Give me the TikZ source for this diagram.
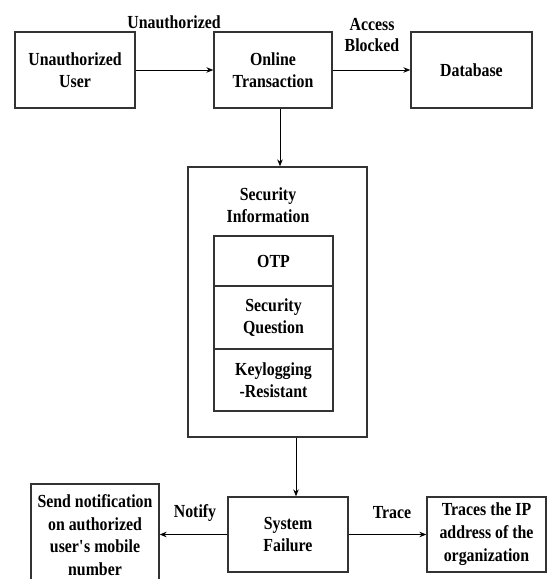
\documentclass[tikz,border=0pt]{standalone}
\usepackage{fontspec}
\setmainfont{Liberation Serif}[FakeStretch=0.86]
\usetikzlibrary{arrows.meta}
\begin{document}
\begin{tikzpicture}[x=1bp,y=-1bp,
  font=\bfseries\fontsize{18.5}{22}\selectfont,
  box/.style={draw=black!80, line width=1.3bp, align=center, inner sep=0pt},
  lbl/.style={align=center, inner sep=0pt},
  arr/.style={draw=black, line width=0.9bp, -{Stealth[length=7bp,width=5.5bp]}}]
\clip (0,0) rectangle (550,579);
\fill[white] (0,0) rectangle (550,579);

% top row
\node[box, minimum width=120bp, minimum height=76bp] (uu) at (75,70) {Unauthorized\\User};
\node[box, minimum width=118bp, minimum height=76bp] (ot) at (273,70) {Online\\Transaction};
\node[box, minimum width=121bp, minimum height=76bp] (db) at (471.5,70) {Database};
\node[lbl] (l1) at (174,22) {Unauthorized};
\node[lbl] (l2) at (372,35) {Access\\Blocked};

% security information container
\node[box, minimum width=179bp, minimum height=270bp] (sec) at (277.5,302) {};
\node[lbl] (sectitle) at (268,205) {Security\\Information};
\node[box, minimum width=119bp, minimum height=50bp] (otp) at (273.5,261) {OTP};
\node[box, minimum width=119bp, minimum height=63bp] (sq) at (273.5,317.5) {Security\\Question};
\node[box, minimum width=119bp, minimum height=62bp] (kr) at (273.5,380) {Keylogging\\-Resistant};

% bottom row
\node[box, minimum width=120bp, minimum height=75bp] (sf) at (288,534.5) {System\\Failure};
\node[box, minimum width=128bp, minimum height=102bp, font=\bfseries\fontsize{18.5}{22.5}\selectfont] (sn) at (95,535) {Send notification\\on authorized\\user\textquotesingle s mobile\\number};
\node[box, minimum width=119bp, minimum height=75bp, font=\bfseries\fontsize{18.5}{23}\selectfont] (tr) at (486.5,534.5) {Traces the IP\\address of the\\organization};
\node[lbl] (l3) at (195,513) {Notify};
\node[lbl] (l4) at (392,513) {Trace};

% connectors
\draw[arr] (uu.east) -- (ot.west);
\draw[arr] (ot.east) -- (db.west);
\draw[arr] (ot.south -| 280,0) -- (sec.north -| 280,0);
\draw[arr] (sec.south -| 296,0) -- (sf.north -| 296,0);
\draw[arr] (sf.west) -- (sn.east |- sf.west);
\draw[arr] (sf.east) -- (tr.west);
\end{tikzpicture}
\end{document}
